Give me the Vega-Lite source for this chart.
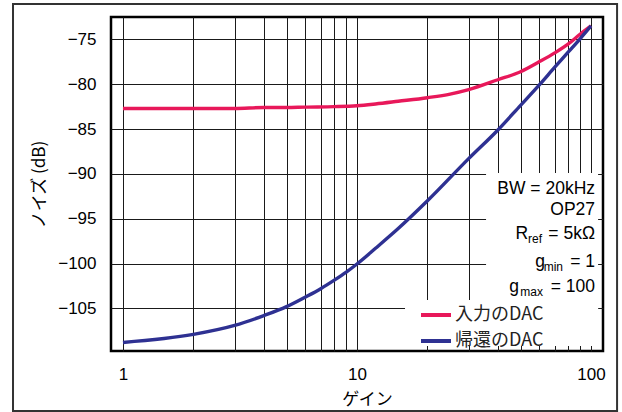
{
  "$schema": "https://vega.github.io/schema/vega-lite/v6.json",
  "width": 492,
  "height": 334,
  "autosize": {"type": "none"},
  "padding": {"left": 111, "top": 17, "right": 19, "bottom": 61},
  "background": "white",
  "config": {
    "view": {"stroke": "#000", "strokeWidth": 2.5},
    "font": "Liberation Sans, Noto Sans CJK JP",
    "axis": {"grid": true, "gridColor": "#1a1a1a", "gridWidth": 1, "gridOpacity": 1, "domain": false, "ticks": false, "labelColor": "#000", "titleColor": "#000", "labelFont": "Liberation Sans", "labelFontSize": 17, "titleFont": "Noto Sans CJK JP", "titleFontSize": 17, "titleFontWeight": "normal"}
  },
  "datasets": {
    "one": [{}],
    "curves": [
      {"series": "入力のDAC", "gain": 1, "noise": -82.7},
      {"series": "入力のDAC", "gain": 2, "noise": -82.7},
      {"series": "入力のDAC", "gain": 3, "noise": -82.7},
      {"series": "入力のDAC", "gain": 4, "noise": -82.6},
      {"series": "入力のDAC", "gain": 5, "noise": -82.6},
      {"series": "入力のDAC", "gain": 6, "noise": -82.55},
      {"series": "入力のDAC", "gain": 8, "noise": -82.5},
      {"series": "入力のDAC", "gain": 10, "noise": -82.4},
      {"series": "入力のDAC", "gain": 12, "noise": -82.2},
      {"series": "入力のDAC", "gain": 15, "noise": -81.9},
      {"series": "入力のDAC", "gain": 20, "noise": -81.5},
      {"series": "入力のDAC", "gain": 25, "noise": -81.1},
      {"series": "入力のDAC", "gain": 30, "noise": -80.6},
      {"series": "入力のDAC", "gain": 40, "noise": -79.5},
      {"series": "入力のDAC", "gain": 50, "noise": -78.6},
      {"series": "入力のDAC", "gain": 60, "noise": -77.5},
      {"series": "入力のDAC", "gain": 70, "noise": -76.5},
      {"series": "入力のDAC", "gain": 80, "noise": -75.5},
      {"series": "入力のDAC", "gain": 90, "noise": -74.4},
      {"series": "入力のDAC", "gain": 100, "noise": -73.5},
      {"series": "帰還のDAC", "gain": 1, "noise": -108.8},
      {"series": "帰還のDAC", "gain": 2, "noise": -107.9},
      {"series": "帰還のDAC", "gain": 3, "noise": -106.9},
      {"series": "帰還のDAC", "gain": 4, "noise": -105.8},
      {"series": "帰還のDAC", "gain": 5, "noise": -104.8},
      {"series": "帰還のDAC", "gain": 6, "noise": -103.75},
      {"series": "帰還のDAC", "gain": 7, "noise": -102.8},
      {"series": "帰還のDAC", "gain": 8, "noise": -101.85},
      {"series": "帰還のDAC", "gain": 9, "noise": -100.95},
      {"series": "帰還のDAC", "gain": 10, "noise": -100.05},
      {"series": "帰還のDAC", "gain": 12, "noise": -98.3},
      {"series": "帰還のDAC", "gain": 15, "noise": -96.1},
      {"series": "帰還のDAC", "gain": 20, "noise": -93.0},
      {"series": "帰還のDAC", "gain": 30, "noise": -88.3},
      {"series": "帰還のDAC", "gain": 40, "noise": -85.1},
      {"series": "帰還のDAC", "gain": 50, "noise": -82.35},
      {"series": "帰還のDAC", "gain": 60, "noise": -80.1},
      {"series": "帰還のDAC", "gain": 70, "noise": -78.1},
      {"series": "帰還のDAC", "gain": 80, "noise": -76.4},
      {"series": "帰還のDAC", "gain": 90, "noise": -74.9},
      {"series": "帰還のDAC", "gain": 100, "noise": -73.5}
    ]
  },
  "layer": [
    {
      "data": {"name": "curves"},
      "mark": {"type": "line", "strokeWidth": 3.3, "interpolate": "monotone", "opacity": 0},
      "encoding": {
        "x": {
          "field": "gain", "type": "quantitative",
          "scale": {"type": "log", "domain": [0.889, 112.5], "nice": false},
          "axis": {
            "title": "ゲイン",
            "grid": true,
            "values": [1, 2, 3, 4, 5, 6, 7, 8, 9, 10, 20, 30, 40, 50, 60, 70, 80, 90, 100],
            "labelExpr": "datum.value == 1 || datum.value == 10 || datum.value == 100 ? format(datum.value, 'd') : ''",
            "labelPadding": 15,
            "labelFlush": false,
            "labelOverlap": false,
            "titlePadding": 9,
            "titleX": 256
          }
        },
        "y": {
          "field": "noise", "type": "quantitative",
          "scale": {"domain": [-109.75, -72.5], "nice": false, "zero": false},
          "axis": {
            "title": "ノイズ (dB)",
            "grid": true,
            "values": [-105, -100, -95, -90, -85, -80, -75],
            "labelPadding": 15,
            "titlePadding": 9
          }
        }
      }
    },
    {
      "data": {"name": "one"},
      "mark": {"type": "rect", "filled": false, "stroke": "#333", "strokeWidth": 2, "clip": false},
      "encoding": {
        "x": {"datum": 0.339, "type": "quantitative"},
        "x2": {"datum": 129.2},
        "y": {"datum": -71.05, "type": "quantitative"},
        "y2": {"datum": -116.44}
      }
    },
    {
      "data": {"name": "one"},
      "mark": {"type": "rect", "fill": "white", "stroke": null},
      "encoding": {
        "x": {"datum": 35.6, "type": "quantitative"},
        "x2": {"datum": 107.2},
        "y": {"datum": -89.9, "type": "quantitative"},
        "y2": {"datum": -109.19}
      }
    },
    {
      "data": {"name": "one"},
      "mark": {"type": "rect", "fill": "white", "stroke": null},
      "encoding": {
        "x": {"datum": 16.04, "type": "quantitative"},
        "x2": {"datum": 107.2},
        "y": {"datum": -104.06, "type": "quantitative"},
        "y2": {"datum": -109.19}
      }
    },
    {
      "data": {"name": "curves"},
      "mark": {"type": "line", "strokeWidth": 3.4, "interpolate": "monotone"},
      "encoding": {
        "x": {"field": "gain", "type": "quantitative"},
        "y": {"field": "noise", "type": "quantitative"},
        "color": {
          "field": "series", "type": "nominal",
          "scale": {"domain": ["入力のDAC", "帰還のDAC"], "range": ["#E8185A", "#2E3192"]},
          "legend": {
            "title": null,
            "orient": "none",
            "legendX": 308,
            "legendY": 281,
            "padding": 0,
            "symbolType": "stroke",
            "symbolSize": 900,
            "symbolStrokeWidth": 4,
            "labelFont": "Noto Sans CJK JP",
            "labelFontSize": 18,
            "labelColor": "#222",
            "labelOffset": 2,
            "rowPadding": -15
          }
        }
      }
    },
    {"data": {"name": "one"}, "mark": {"type": "text", "text": "BW = 20kHz", "align": "right", "baseline": "middle", "fontSize": 17.5, "dx": 4, "font": "Liberation Sans"},
     "encoding": {"x": {"datum": 100, "type": "quantitative"}, "y": {"datum": -91.68, "type": "quantitative"}}},
    {"data": {"name": "one"}, "mark": {"type": "text", "text": "OP27", "align": "right", "baseline": "middle", "fontSize": 17.5, "dx": 4, "font": "Liberation Sans"},
     "encoding": {"x": {"datum": 100, "type": "quantitative"}, "y": {"datum": -94.03, "type": "quantitative"}}},
    {"data": {"name": "one"}, "mark": {"type": "text", "text": " = 5kΩ", "align": "right", "baseline": "middle", "fontSize": 17.5, "dx": 4, "font": "Liberation Sans"},
     "encoding": {"x": {"datum": 100, "type": "quantitative"}, "y": {"datum": -96.7, "type": "quantitative"}}},
    {"data": {"name": "one"}, "mark": {"type": "text", "text": "ref", "align": "right", "baseline": "middle", "fontSize": 12, "dx": -49, "dy": 5, "font": "Liberation Sans"},
     "encoding": {"x": {"datum": 100, "type": "quantitative"}, "y": {"datum": -96.7, "type": "quantitative"}}},
    {"data": {"name": "one"}, "mark": {"type": "text", "text": "R", "align": "right", "baseline": "middle", "fontSize": 17.5, "dx": -63, "font": "Liberation Sans"},
     "encoding": {"x": {"datum": 100, "type": "quantitative"}, "y": {"datum": -96.7, "type": "quantitative"}}},
    {"data": {"name": "one"}, "mark": {"type": "text", "text": " = 1", "align": "right", "baseline": "middle", "fontSize": 17.5, "dx": 4, "font": "Liberation Sans"},
     "encoding": {"x": {"datum": 100, "type": "quantitative"}, "y": {"datum": -99.83, "type": "quantitative"}}},
    {"data": {"name": "one"}, "mark": {"type": "text", "text": "min", "align": "right", "baseline": "middle", "fontSize": 12, "dx": -28, "dy": 5, "font": "Liberation Sans"},
     "encoding": {"x": {"datum": 100, "type": "quantitative"}, "y": {"datum": -99.83, "type": "quantitative"}}},
    {"data": {"name": "one"}, "mark": {"type": "text", "text": "g", "align": "right", "baseline": "middle", "fontSize": 17.5, "dx": -46, "font": "Liberation Sans"},
     "encoding": {"x": {"datum": 100, "type": "quantitative"}, "y": {"datum": -99.83, "type": "quantitative"}}},
    {"data": {"name": "one"}, "mark": {"type": "text", "text": " = 100", "align": "right", "baseline": "middle", "fontSize": 17.5, "dx": 4, "font": "Liberation Sans"},
     "encoding": {"x": {"datum": 100, "type": "quantitative"}, "y": {"datum": -102.61, "type": "quantitative"}}},
    {"data": {"name": "one"}, "mark": {"type": "text", "text": "max", "align": "right", "baseline": "middle", "fontSize": 12, "dx": -48, "dy": 5, "font": "Liberation Sans"},
     "encoding": {"x": {"datum": 100, "type": "quantitative"}, "y": {"datum": -102.61, "type": "quantitative"}}},
    {"data": {"name": "one"}, "mark": {"type": "text", "text": "g", "align": "right", "baseline": "middle", "fontSize": 17.5, "dx": -72, "font": "Liberation Sans"},
     "encoding": {"x": {"datum": 100, "type": "quantitative"}, "y": {"datum": -102.61, "type": "quantitative"}}}
  ]
}
